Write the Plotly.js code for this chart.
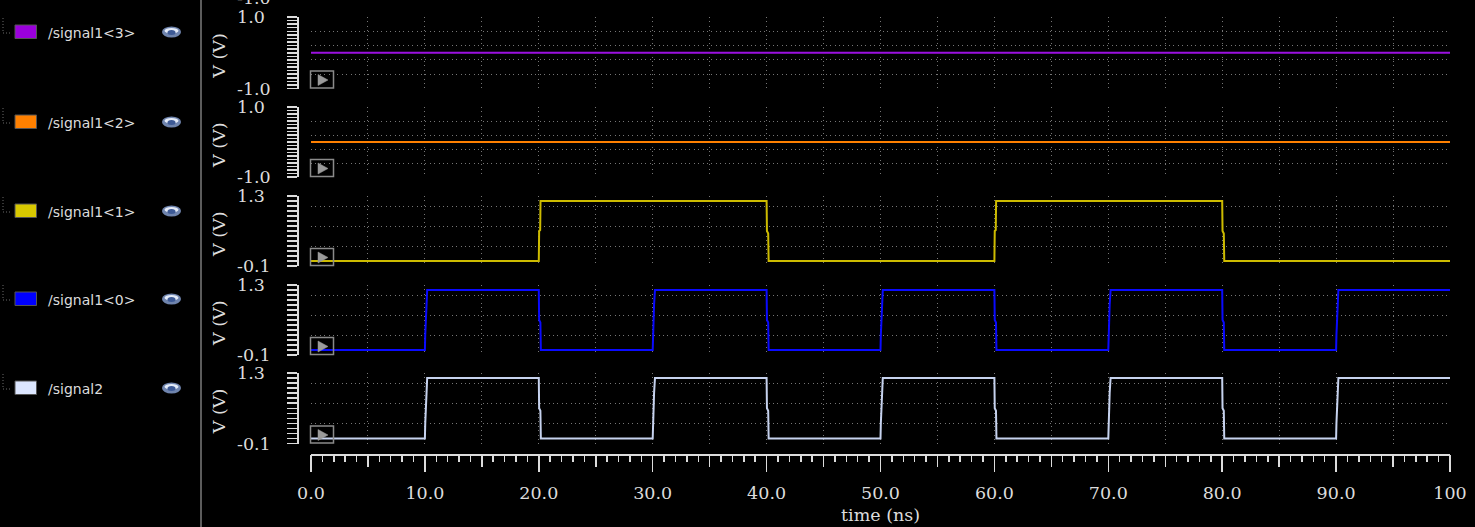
<!DOCTYPE html>
<html><head><meta charset="utf-8">
<script src="https://cdn.plot.ly/plotly-3.0.1.min.js"></script>
<style>html,body{margin:0;padding:0;background:#000;overflow:hidden}</style>
</head><body><div id="chart" style="width:1475px;height:527px"></div>
<script>
// ---------------- data ----------------
const signalNames = ['/signal1<3>', '/signal1<2>', '/signal1<1>', '/signal1<0>', '/signal2'];
const lineColors = ['#9b10e0', '#ff8000', '#cdbb00', '#0a0aff', '#c6d2ee'];
const swatchColors = ['#9a00dc', '#ff8000', '#d8c800', '#0000ff', '#dce6ff'];

const timeS13 = [0, 100];
const voltS13 = [0, 0];

const timeS12 = [0, 100];
const voltS12 = [0, 0];

const timeS11 = [0,
  20, 20.03, 20.12, 20.15,
  40, 40.03, 40.14, 40.18,
  60, 60.03, 60.12, 60.15,
  80, 80.03, 80.14, 80.18,
  100];
const voltS11 = [0,
  0, 0.6, 0.62, 1.2,
  1.2, 0.6, 0.55, 0,
  0, 0.6, 0.62, 1.2,
  1.2, 0.6, 0.55, 0,
  0];

const timeS10 = [0,
  10, 10.03, 10.12, 10.2,
  20, 20.03, 20.14, 20.18,
  30, 30.03, 30.12, 30.2,
  40, 40.03, 40.14, 40.18,
  50, 50.03, 50.12, 50.2,
  60, 60.03, 60.14, 60.18,
  70, 70.03, 70.12, 70.2,
  80, 80.03, 80.14, 80.18,
  90, 90.03, 90.12, 90.2,
  100];
const voltS10 = [0,
  0, 0.3, 0.9, 1.2,
  1.2, 0.6, 0.55, 0,
  0, 0.3, 0.9, 1.2,
  1.2, 0.6, 0.55, 0,
  0, 0.3, 0.9, 1.2,
  1.2, 0.6, 0.55, 0,
  0, 0.3, 0.9, 1.2,
  1.2, 0.6, 0.55, 0,
  0, 0.3, 0.9, 1.2,
  1.2];

const timeS2 = [0,
  10, 10.03, 10.12, 10.2,
  20, 20.03, 20.14, 20.18,
  30, 30.03, 30.12, 30.2,
  40, 40.03, 40.14, 40.18,
  50, 50.03, 50.12, 50.2,
  60, 60.03, 60.14, 60.18,
  70, 70.03, 70.12, 70.2,
  80, 80.03, 80.14, 80.18,
  90, 90.03, 90.12, 90.2,
  100];
const voltS2 = [0,
  0, 0.3, 0.9, 1.2,
  1.2, 0.6, 0.55, 0,
  0, 0.3, 0.9, 1.2,
  1.2, 0.6, 0.55, 0,
  0, 0.3, 0.9, 1.2,
  1.2, 0.6, 0.55, 0,
  0, 0.3, 0.9, 1.2,
  1.2, 0.6, 0.55, 0,
  0, 0.3, 0.9, 1.2,
  1.2];

const seriesTime = [timeS13, timeS12, timeS11, timeS10, timeS2];
const seriesVolt = [voltS13, voltS12, voltS11, voltS10, voltS2];

const yRanges = [[-1, 1], [-1, 1], [-0.1, 1.3], [-0.1, 1.3], [-0.1, 1.3]];
const yTopLabels = ['1.0', '1.0', '1.3', '1.3', '1.3'];
const yBottomLabels = ['-1.0', '-1.0', '-0.1', '-0.1', '-0.1'];
const xTickVals = [0, 10, 20, 30, 40, 50, 60, 70, 80, 90, 100];
const xTickText = ['0.0', '10.0', '20.0', '30.0', '40.0', '50.0', '60.0', '70.0', '80.0', '90.0', '100'];
const xTitle = 'time (ns)';
const yTitle = 'V (V)';

// ---------------- geometry (pixels) ----------------
const W = 1475, H = 527;
const ML = 201, MR = 25, MT = 17, MB = 73;
const PW = W - ML - MR, PH = H - MT - MB;
const plotBottom = H - MB;
const px = v => (v - ML) / PW;
const py = v => (plotBottom - v) / PH;
const panelTop = [17, 107, 196, 285, 373];
const panelBot = [88.5, 177, 266, 355, 443.5];
const plotLeft = 311, rulerX = 297;

const txt = '#dcdcdc';
const serif = 'DejaVu Serif';
const gridDash = '1px,3.4px';
const gridColor = '#767676';

const data = [];
const layout = {
  width: W, height: H,
  margin: {l: ML, r: MR, t: MT, b: MB, pad: 0},
  paper_bgcolor: '#000', plot_bgcolor: '#000',
  showlegend: false, hovermode: false,
  shapes: [], annotations: [],
  xaxis: {
    domain: [px(plotLeft), 1], range: [0, 100], anchor: 'free', position: 0,
    showline: true, linecolor: txt, linewidth: 1.5,
    ticks: 'outside', ticklen: 11, tickwidth: 1.5, tickcolor: txt, tick0: 0, dtick: 5,
    showticklabels: false, showgrid: true, gridcolor: gridColor, griddash: gridDash, gridwidth: 1,
    zeroline: false,
    minor: {dtick: 1, tick0: 0, ticks: 'outside', ticklen: 6, tickwidth: 1.5, tickcolor: txt, showgrid: false}
  },
  xaxis2: {
    overlaying: 'x', range: [0, 100], anchor: 'free', position: 0,
    showline: false, ticks: 'outside', ticklen: 17, tickwidth: 1.5, tickcolor: txt,
    tickvals: xTickVals, ticktext: xTickText, ticklabelstandoff: 6,
    tickfont: {family: serif, size: 17.5, color: txt},
    showgrid: false, zeroline: false
  }
};

for (let i = 0; i < 5; i++) {
  const ax = i === 0 ? 'y' : 'y' + (i + 1);
  const axName = i === 0 ? 'yaxis' : 'yaxis' + (i + 1);
  const r = yRanges[i];
  data.push({
    type: 'scatter', mode: 'lines', x: seriesTime[i], y: seriesVolt[i],
    xaxis: 'x', yaxis: ax, line: {color: lineColors[i], width: 2}, hoverinfo: 'skip'
  });
  layout[axName] = {
    domain: [py(panelBot[i]), py(panelTop[i])], range: r,
    anchor: 'free', position: px(rulerX), side: 'left',
    showline: true, linecolor: txt, linewidth: 1.5,
    ticks: 'outside', ticklen: 10, tickwidth: 1.5, tickcolor: txt,
    tick0: r[0], dtick: 0.4, showticklabels: false,
    showgrid: true, gridcolor: gridColor, griddash: gridDash, gridwidth: 1, zeroline: false,
    minor: {tick0: r[0], dtick: 0.1, ticks: 'outside', ticklen: 10, tickwidth: 1.5, tickcolor: txt, showgrid: false}
  };
  // y tick labels
  layout.annotations.push({xref: 'paper', yref: ax, x: px(235), y: r[1], xanchor: 'left', yanchor: 'middle',
    text: yTopLabels[i], showarrow: false, font: {family: serif, size: 17.5, color: txt}});
  layout.annotations.push({xref: 'paper', yref: ax, x: px(235), y: r[0], xanchor: 'left', yanchor: 'middle',
    text: yBottomLabels[i], showarrow: false, font: {family: serif, size: 17.5, color: txt}});
  // axis title
  const cy = (panelTop[i] + panelBot[i]) / 2 + 3;
  layout.annotations.push({xref: 'paper', yref: 'paper', x: px(219), y: py(cy), xanchor: 'center', yanchor: 'middle',
    text: yTitle, textangle: -90, showarrow: false, font: {family: serif, size: 17.5, color: txt}});
  // play box
  const B = panelBot[i];
  layout.shapes.push({type: 'rect', xref: 'paper', yref: 'paper', x0: px(310.5), x1: px(333.5), y0: py(B - 0.5), y1: py(B - 17.5),
    line: {color: '#8a8a8a', width: 1.5}, fillcolor: 'rgba(0,0,0,0)'});
  layout.shapes.push({type: 'path', xref: 'paper', yref: 'paper',
    path: `M ${px(318)} ${py(B - 14)} L ${px(318)} ${py(B - 3)} L ${px(328)} ${py(B - 8.5)} Z`,
    line: {color: '#9a9a9a', width: 0.5}, fillcolor: '#9a9a9a'});
  // legend row on the left
  const ly = [32, 122, 211, 299, 388][i];
  layout.shapes.push({type: 'line', xref: 'paper', yref: 'paper', x0: px(3), x1: px(3), y0: py(ly - 14), y1: py(ly + 1),
    line: {color: '#6a6a6a', width: 1, dash: '1px,2px'}});
  layout.shapes.push({type: 'line', xref: 'paper', yref: 'paper', x0: px(3), x1: px(12), y0: py(ly + 1), y1: py(ly + 1),
    line: {color: '#6a6a6a', width: 1, dash: '1px,2px'}});
  layout.shapes.push({type: 'rect', xref: 'paper', yref: 'paper', x0: px(15), x1: px(36.5), y0: py(ly + 6.5), y1: py(ly - 7),
    line: {color: '#555', width: 1}, fillcolor: swatchColors[i]});
  layout.annotations.push({xref: 'paper', yref: 'paper', x: px(46), y: py(ly + 1), xanchor: 'left', yanchor: 'middle',
    text: signalNames[i].replace(/</g, '&lt;').replace(/>/g, '&gt;'), showarrow: false,
    font: {family: 'DejaVu Sans', size: 14, color: txt}});
  // eye icon
  layout.shapes.push({type: 'circle', xref: 'paper', yref: 'paper', x0: px(162), x1: px(181), y0: py(ly + 5.5), y1: py(ly - 5.5),
    line: {width: 0}, fillcolor: '#6f84ad'});
  layout.shapes.push({type: 'circle', xref: 'paper', yref: 'paper', x0: px(164.5), x1: px(178.5), y0: py(ly + 1.5), y1: py(ly - 4),
    line: {width: 0}, fillcolor: '#e4ebf8'});
  layout.shapes.push({type: 'circle', xref: 'paper', yref: 'paper', x0: px(167.5), x1: px(175.5), y0: py(ly + 3), y1: py(ly - 2),
    line: {width: 0}, fillcolor: '#3d5a96'});
}

// dummy trace so the label axis is drawn
data.push({type: 'scatter', mode: 'lines', x: [], y: [], xaxis: 'x2', yaxis: 'y5', hoverinfo: 'skip'});

// x title
layout.annotations.push({xref: 'paper', yref: 'paper', x: (px(plotLeft) + 1) / 2, y: py(515), xanchor: 'center', yanchor: 'middle',
  text: xTitle, showarrow: false, font: {family: serif, size: 17.5, color: txt}});
// partially visible label from a panel scrolled above (cut off at the top edge, as in the original)
layout.annotations.push({xref: 'paper', yref: 'paper', x: px(235), y: py(-2), xanchor: 'left', yanchor: 'middle',
  text: '-1.0', showarrow: false, font: {family: serif, size: 17.5, color: txt}});
// separator between name column and plots
layout.shapes.push({type: 'line', xref: 'paper', yref: 'paper', x0: px(201), x1: px(201), y0: py(-5), y1: py(H + 5),
  line: {color: '#9a9a9a', width: 1.2}});

Plotly.newPlot('chart', data, layout, {displayModeBar: false, staticPlot: true});
</script>
</body></html>
